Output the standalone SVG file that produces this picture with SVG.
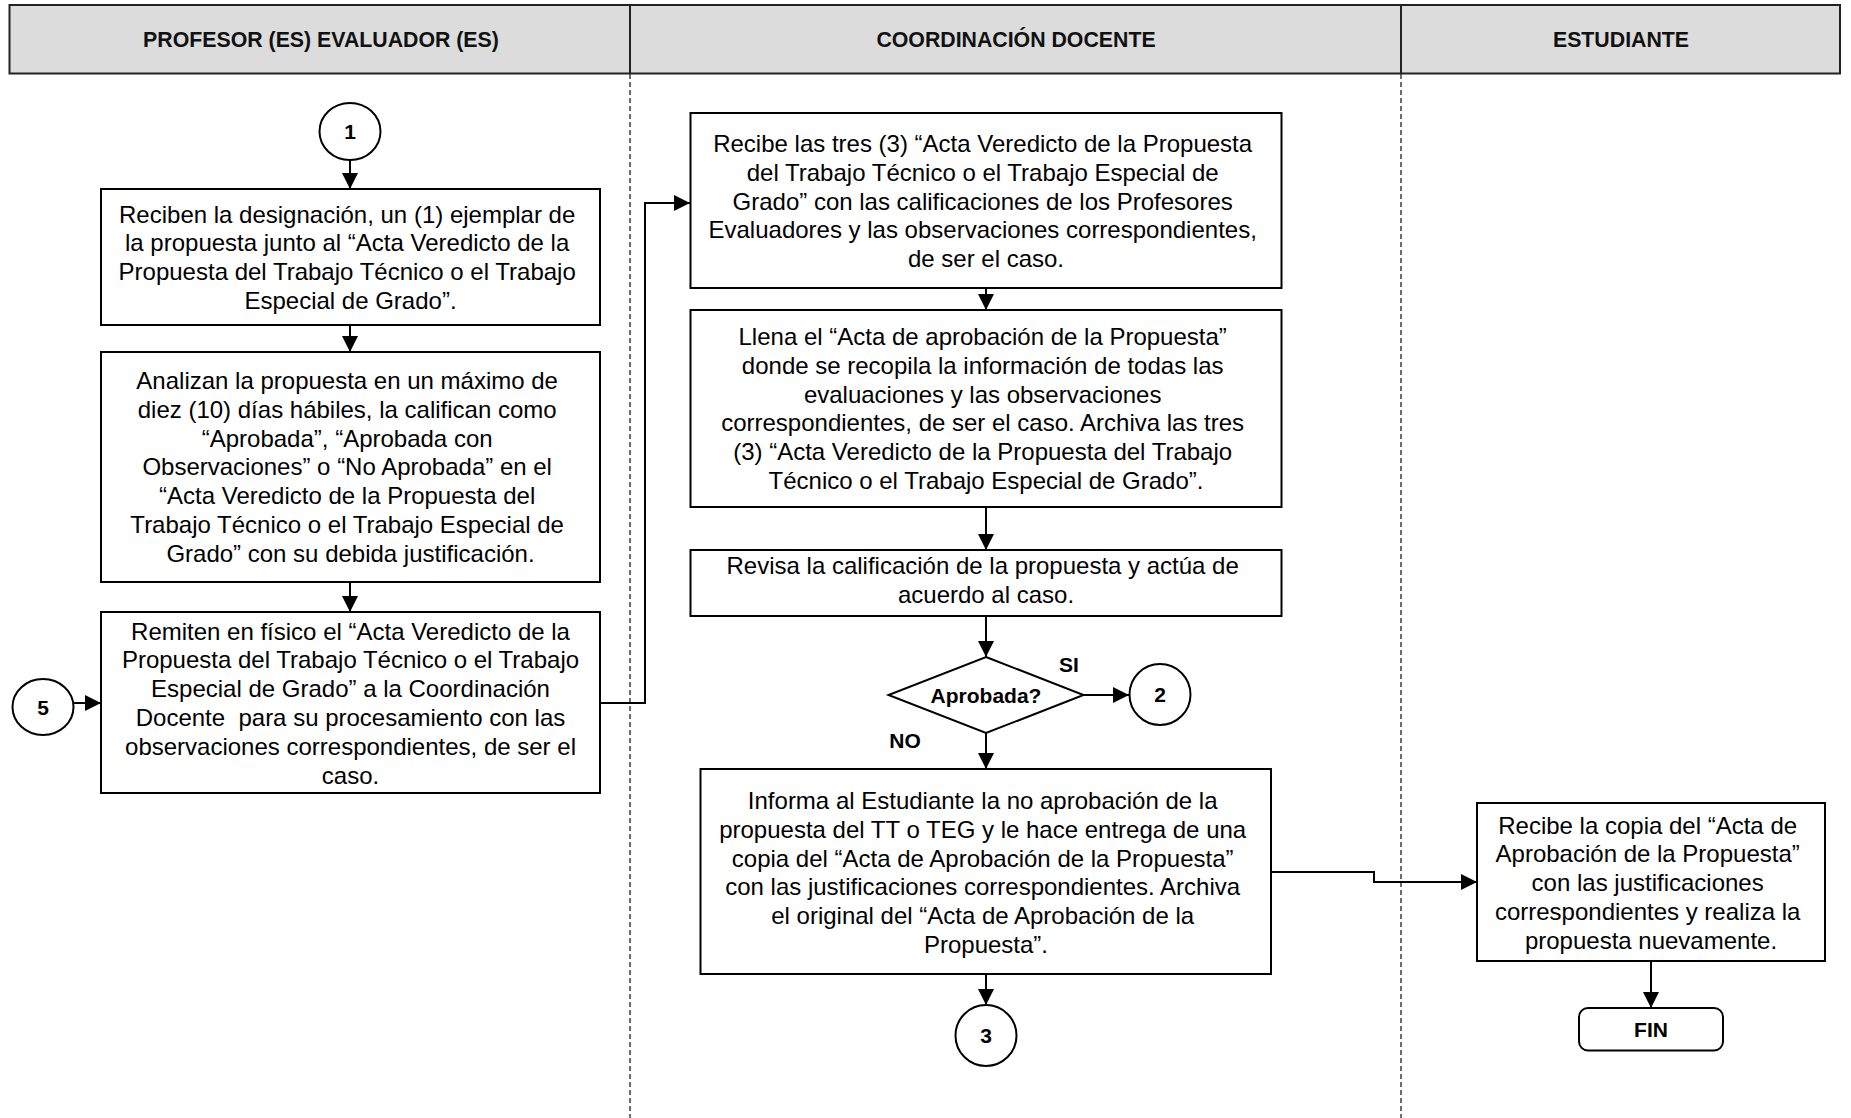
<svg xmlns="http://www.w3.org/2000/svg" width="1851" height="1118" viewBox="0 0 1851 1118">
  <style>
    .box { fill: #ffffff; stroke: #000000; stroke-width: 2; }
    .conn { fill: #ffffff; stroke: #000000; stroke-width: 2; }
    .lbl { font-family: "Liberation Sans", Arial, sans-serif; font-size: 24px; fill: #000000; text-anchor: middle; }
    .bold { font-family: "Liberation Sans", Arial, sans-serif; font-size: 21px; font-weight: bold; fill: #000000; text-anchor: middle; }
    .hdr { font-family: "Liberation Sans", Arial, sans-serif; font-size: 21.3px; font-weight: bold; fill: #111111; text-anchor: middle; }
    .edge { fill: none; stroke: #000000; stroke-width: 2; }
    .lane { fill: none; stroke: #222222; stroke-width: 1.3; stroke-dasharray: 5 3; }
  </style>
  <defs>
    <marker id="arrow" markerUnits="userSpaceOnUse" markerWidth="16" markerHeight="16" refX="16" refY="8" orient="auto">
      <path d="M0,0 L16,8 L0,16 z" fill="#000000"/>
    </marker>
  </defs>

  <rect width="1851" height="1118" fill="#ffffff"/>

  <!-- swimlane header -->
  <g id="header">
    <rect x="9.5" y="5" width="1830.5" height="68.5" fill="#dcdcdc" stroke="#222222" stroke-width="2"/>
    <line x1="630" y1="5" x2="630" y2="73.5" stroke="#222222" stroke-width="2"/>
    <line x1="1401" y1="5" x2="1401" y2="73.5" stroke="#222222" stroke-width="2"/>
    <text class="hdr" x="321" y="46.5">PROFESOR (ES) EVALUADOR (ES)</text>
    <text class="hdr" x="1016" y="46.5">COORDINACIÓN DOCENTE</text>
    <text class="hdr" x="1621" y="46.5">ESTUDIANTE</text>
  </g>

  <!-- lane separators -->
  <g id="lanes">
    <line class="lane" x1="630" y1="74" x2="630" y2="1118"/>
    <line class="lane" x1="1401" y1="74" x2="1401" y2="1118"/>
  </g>

  <!-- connectors -->
  <g id="connectors">
    <path class="edge" d="M350,160 L350,189" marker-end="url(#arrow)"/>
    <path class="edge" d="M350,325 L350,352" marker-end="url(#arrow)"/>
    <path class="edge" d="M350,582 L350,612" marker-end="url(#arrow)"/>
    <path class="edge" d="M74,703 L101,703" marker-end="url(#arrow)"/>
    <path class="edge" d="M600,703 L645,703 L645,203 L690,203" marker-end="url(#arrow)"/>
    <path class="edge" d="M986,288 L986,310" marker-end="url(#arrow)"/>
    <path class="edge" d="M986,507 L986,550" marker-end="url(#arrow)"/>
    <path class="edge" d="M986,616 L986,657" marker-end="url(#arrow)"/>
    <path class="edge" d="M1083.5,695 L1129,695" marker-end="url(#arrow)"/>
    <path class="edge" d="M986,733 L986,769" marker-end="url(#arrow)"/>
    <path class="edge" d="M986,974 L986,1005" marker-end="url(#arrow)"/>
    <path class="edge" d="M1271,872 L1374,872 L1374,882 L1477,882" marker-end="url(#arrow)"/>
    <path class="edge" d="M1651,961 L1651,1008" marker-end="url(#arrow)"/>
  </g>

  <!-- lane 1: evaluators -->
  <g id="c1">
    <ellipse class="conn" cx="350" cy="131.5" rx="30.5" ry="28.5"/>
    <text class="bold" x="350" y="139">1</text>
  </g>
  <g id="recibenDesignacion">
    <rect class="box" x="101" y="189" width="499" height="136"/>
    <text class="lbl">
      <tspan x="350.5" y="222.5">Reciben la designación, un (1) ejemplar de</tspan>
      <tspan x="350.5" y="251.3">la propuesta junto al “Acta Veredicto de la</tspan>
      <tspan x="350.5" y="280.1">Propuesta del Trabajo Técnico o el Trabajo</tspan>
      <tspan x="350.5" y="308.9">Especial de Grado”.</tspan>
    </text>
  </g>
  <g id="analizan">
    <rect class="box" x="101" y="352" width="499" height="230"/>
    <text class="lbl">
      <tspan x="350.5" y="389">Analizan la propuesta en un máximo de</tspan>
      <tspan x="350.5" y="417.8">diez (10) días hábiles, la califican como</tspan>
      <tspan x="350.5" y="446.6">“Aprobada”, “Aprobada con</tspan>
      <tspan x="350.5" y="475.4">Observaciones” o “No Aprobada” en el</tspan>
      <tspan x="350.5" y="504.2">“Acta Veredicto de la Propuesta del</tspan>
      <tspan x="350.5" y="533">Trabajo Técnico o el Trabajo Especial de</tspan>
      <tspan x="350.5" y="561.8">Grado” con su debida justificación.</tspan>
    </text>
  </g>
  <g id="remiten">
    <rect class="box" x="101" y="612" width="499" height="181"/>
    <text class="lbl" xml:space="preserve"><tspan x="350.5" y="639.5">Remiten en físico el “Acta Veredicto de la</tspan><tspan x="350.5" y="668.3">Propuesta del Trabajo Técnico o el Trabajo</tspan><tspan x="350.5" y="697.1">Especial de Grado” a la Coordinación</tspan><tspan x="350.5" y="725.9">Docente  para su procesamiento con las</tspan><tspan x="350.5" y="754.7">observaciones correspondientes, de ser el</tspan><tspan x="350.5" y="783.5">caso.</tspan></text>
  </g>
  <g id="c5">
    <ellipse class="conn" cx="43" cy="707" rx="30.5" ry="28"/>
    <text class="bold" x="43" y="714.5">5</text>
  </g>

  <!-- lane 2: teaching coordination -->
  <g id="recibeActas">
    <rect class="box" x="690.5" y="113" width="591" height="175"/>
    <text class="lbl">
      <tspan x="986" y="152">Recibe las tres (3) “Acta Veredicto de la Propuesta</tspan>
      <tspan x="986" y="180.8">del Trabajo Técnico o el Trabajo Especial de</tspan>
      <tspan x="986" y="209.6">Grado” con las calificaciones de los Profesores</tspan>
      <tspan x="986" y="238.4">Evaluadores y las observaciones correspondientes,</tspan>
      <tspan x="986" y="267.2">de ser el caso.</tspan>
    </text>
  </g>
  <g id="llenaActa">
    <rect class="box" x="690.5" y="310" width="591" height="197"/>
    <text class="lbl">
      <tspan x="986" y="345">Llena el “Acta de aprobación de la Propuesta”</tspan>
      <tspan x="986" y="373.8">donde se recopila la información de todas las</tspan>
      <tspan x="986" y="402.6">evaluaciones y las observaciones</tspan>
      <tspan x="986" y="431.4">correspondientes, de ser el caso. Archiva las tres</tspan>
      <tspan x="986" y="460.2">(3) “Acta Veredicto de la Propuesta del Trabajo</tspan>
      <tspan x="986" y="489">Técnico o el Trabajo Especial de Grado”.</tspan>
    </text>
  </g>
  <g id="revisa">
    <rect class="box" x="690.5" y="550" width="591" height="66"/>
    <text class="lbl">
      <tspan x="986" y="574">Revisa la calificación de la propuesta y actúa de</tspan>
      <tspan x="986" y="602.8">acuerdo al caso.</tspan>
    </text>
  </g>
  <g id="aprobada">
    <polygon class="conn" points="986,657 1083.5,695 986,733 888.5,695"/>
    <text class="bold" x="986" y="703">Aprobada?</text>
    <text class="bold" x="1069" y="672">SI</text>
    <text class="bold" x="905" y="748">NO</text>
  </g>
  <g id="c2">
    <ellipse class="conn" cx="1160" cy="694.5" rx="30.5" ry="30.5"/>
    <text class="bold" x="1160" y="702">2</text>
  </g>
  <g id="informa">
    <rect class="box" x="700.5" y="769" width="570.5" height="205"/>
    <text class="lbl">
      <tspan x="986" y="809">Informa al Estudiante la no aprobación de la</tspan>
      <tspan x="986" y="837.8">propuesta del TT o TEG y le hace entrega de una</tspan>
      <tspan x="986" y="866.6">copia del “Acta de Aprobación de la Propuesta”</tspan>
      <tspan x="986" y="895.4">con las justificaciones correspondientes. Archiva</tspan>
      <tspan x="986" y="924.2">el original del “Acta de Aprobación de la</tspan>
      <tspan x="986" y="953">Propuesta”.</tspan>
    </text>
  </g>
  <g id="c3">
    <ellipse class="conn" cx="986" cy="1035.5" rx="30.5" ry="30.5"/>
    <text class="bold" x="986" y="1043">3</text>
  </g>

  <!-- lane 3: student -->
  <g id="recibeCopia">
    <rect class="box" x="1477" y="803" width="348" height="158"/>
    <text class="lbl">
      <tspan x="1651" y="833.5">Recibe la copia del “Acta de</tspan>
      <tspan x="1651" y="862.3">Aprobación de la Propuesta”</tspan>
      <tspan x="1651" y="891.1">con las justificaciones</tspan>
      <tspan x="1651" y="919.9">correspondientes y realiza la</tspan>
      <tspan x="1651" y="948.7">propuesta nuevamente.</tspan>
    </text>
  </g>
  <g id="fin">
    <rect class="conn" x="1579" y="1008" width="144" height="42.5" rx="9" ry="9"/>
    <text class="bold" x="1651" y="1037">FIN</text>
  </g>
</svg>
